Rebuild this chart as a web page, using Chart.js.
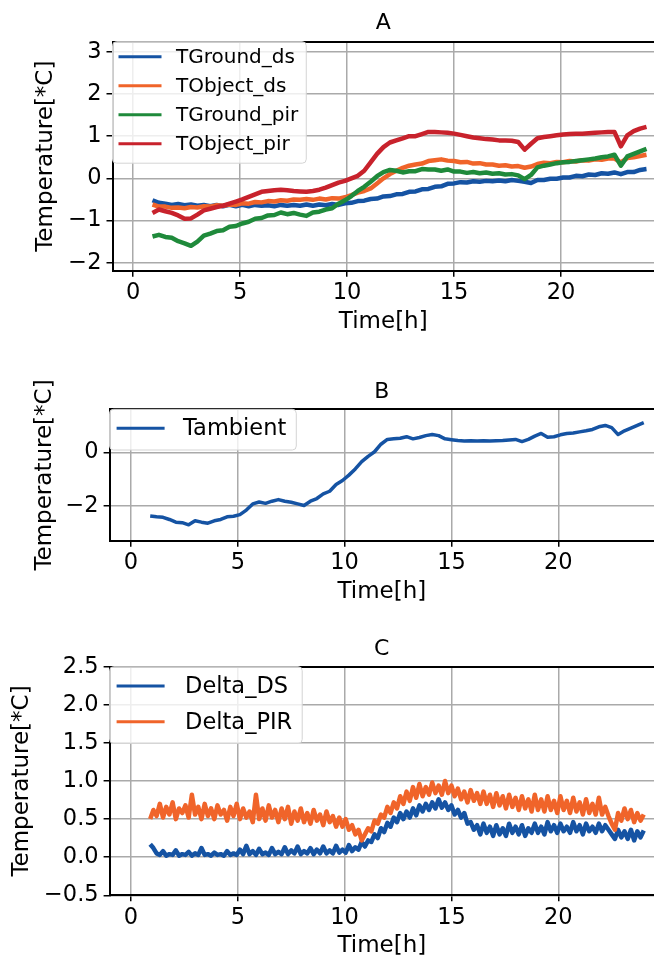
<!DOCTYPE html>
<html>
<head>
<meta charset="utf-8">
<script src="https://cdn.jsdelivr.net/npm/chart.js@4.4.0/dist/chart.umd.min.js"></script>
<style>
  html, body { margin: 0; padding: 0; background: #fff; }
  #wrap { position: relative; width: 654px; height: 960px; overflow: hidden; }
  canvas { position: absolute; left: 0; }
</style>
</head>
<body>
<div id="wrap">
  <canvas id="chartA" width="654" height="340" style="top:0"></canvas>
  <canvas id="chartB" width="654" height="270" style="top:340px"></canvas>
  <canvas id="chartC" width="654" height="350" style="top:610px"></canvas>
</div>
<script>
// Zeitachse in Stunden (Panel A und B)
const times = [
  0.9, 1.2, 1.5, 1.8, 2.1, 2.4, 2.7, 3.0, 3.3, 3.6,
  3.9, 4.2, 4.5, 4.8, 5.1, 5.4, 5.7, 6.0, 6.3, 6.6,
  6.9, 7.2, 7.5, 7.8, 8.1, 8.4, 8.7, 9.0, 9.3, 9.6,
  9.9, 10.2, 10.5, 10.8, 11.1, 11.4, 11.7, 12.0, 12.3, 12.6,
  12.9, 13.2, 13.5, 13.8, 14.1, 14.4, 14.7, 15.0, 15.3, 15.6,
  15.9, 16.2, 16.5, 16.8, 17.1, 17.4, 17.7, 18.0, 18.3, 18.6,
  18.9, 19.2, 19.5, 19.8, 20.1, 20.4, 20.7, 21.0, 21.3, 21.6,
  21.9, 22.2, 22.5, 22.8, 23.1, 23.4, 23.7, 24.0
];

// Panel A
const tGroundDs = [
  -0.52, -0.58, -0.60, -0.63, -0.61, -0.64, -0.62, -0.65, -0.63, -0.66,
  -0.63, -0.66, -0.63, -0.66, -0.63, -0.66, -0.63, -0.65, -0.64, -0.66,
  -0.63, -0.65, -0.63, -0.65, -0.62, -0.65, -0.62, -0.64, -0.61, -0.63,
  -0.59, -0.58, -0.54, -0.53, -0.49, -0.48, -0.43, -0.42, -0.38, -0.37,
  -0.32, -0.31, -0.26, -0.25, -0.20, -0.19, -0.13, -0.12, -0.09, -0.10,
  -0.07, -0.08, -0.06, -0.07, -0.05, -0.07, -0.04, -0.06, -0.08, -0.11,
  -0.04, -0.04, -0.01, -0.01, 0.02, 0.02, 0.06, 0.05, 0.09, 0.08,
  0.12, 0.11, 0.14, 0.10, 0.15, 0.15, 0.20, 0.22
];
const tObjectDs = [
  -0.62, -0.67, -0.67, -0.70, -0.69, -0.71, -0.68, -0.69, -0.66, -0.67,
  -0.64, -0.65, -0.62, -0.63, -0.59, -0.60, -0.56, -0.57, -0.54, -0.55,
  -0.52, -0.53, -0.50, -0.51, -0.49, -0.51, -0.48, -0.50, -0.47, -0.48,
  -0.45, -0.40, -0.34, -0.30, -0.24, -0.12, 0.00, 0.10, 0.18, 0.25,
  0.30, 0.33, 0.35, 0.41, 0.43, 0.45, 0.42, 0.41, 0.38, 0.39,
  0.35, 0.36, 0.33, 0.33, 0.30, 0.31, 0.28, 0.29, 0.25, 0.28,
  0.34, 0.37, 0.36, 0.39, 0.38, 0.41, 0.40, 0.43, 0.42, 0.45,
  0.44, 0.47, 0.47, 0.38, 0.48, 0.50, 0.53, 0.56
];
const tGroundPir = [
  -1.38, -1.34, -1.39, -1.41, -1.49, -1.54, -1.60, -1.50, -1.36, -1.31,
  -1.25, -1.23, -1.15, -1.13, -1.07, -1.03, -0.96, -0.94, -0.88, -0.87,
  -0.81, -0.85, -0.82, -0.86, -0.89, -0.81, -0.79, -0.74, -0.71, -0.60,
  -0.52, -0.42, -0.30, -0.20, -0.08, 0.05, 0.15, 0.20, 0.18, 0.14,
  0.17, 0.17, 0.22, 0.21, 0.21, 0.18, 0.21, 0.16, 0.16, 0.13,
  0.15, 0.12, 0.14, 0.11, 0.12, 0.09, 0.10, 0.07, -0.02, 0.08,
  0.26, 0.30, 0.33, 0.36, 0.38, 0.39, 0.41, 0.43, 0.45, 0.47,
  0.50, 0.52, 0.56, 0.30, 0.52, 0.58, 0.64, 0.70
];
const tObjectPir = [
  -0.82, -0.74, -0.78, -0.82, -0.88, -0.96, -0.95, -0.86, -0.76, -0.72,
  -0.68, -0.65, -0.60, -0.55, -0.50, -0.44, -0.38, -0.32, -0.30, -0.28,
  -0.27, -0.28, -0.30, -0.31, -0.32, -0.30, -0.27, -0.22, -0.16, -0.10,
  -0.06, 0.00, 0.06, 0.18, 0.38, 0.58, 0.74, 0.85, 0.90, 0.95,
  1.00, 1.00, 1.05, 1.10, 1.10, 1.09, 1.08, 1.06, 1.03, 1.00,
  0.97, 0.95, 0.93, 0.92, 0.90, 0.90, 0.89, 0.86, 0.68, 0.82,
  0.95, 0.98, 1.00, 1.02, 1.04, 1.05, 1.06, 1.06, 1.07, 1.08,
  1.09, 1.10, 1.10, 0.76, 1.02, 1.12, 1.18, 1.22
];

// Panel B
const tAmbient = [
  -2.37, -2.40, -2.42, -2.50, -2.60, -2.62, -2.70, -2.55, -2.60, -2.64,
  -2.55, -2.50, -2.40, -2.38, -2.32, -2.15, -1.92, -1.85, -1.90, -1.82,
  -1.76, -1.82, -1.86, -1.92, -1.98, -1.82, -1.72, -1.55, -1.45, -1.20,
  -1.05, -0.85, -0.62, -0.35, -0.15, 0.02, 0.30, 0.48, 0.50, 0.52,
  0.58, 0.50, 0.55, 0.62, 0.66, 0.62, 0.50, 0.47, 0.44, 0.42,
  0.43, 0.42, 0.43, 0.42, 0.43, 0.44, 0.46, 0.48, 0.40, 0.48,
  0.60, 0.70, 0.56, 0.58, 0.65, 0.70, 0.72, 0.76, 0.80, 0.85,
  0.95, 1.00, 0.92, 0.66, 0.80, 0.90, 1.00, 1.10
];

// Panel C (feinere Zeitachse wegen des Rauschens)
const timesC = [
  0.9, 1.05, 1.2, 1.35, 1.5, 1.65, 1.8, 1.95, 2.1, 2.25,
  2.4, 2.55, 2.7, 2.85, 3.0, 3.15, 3.3, 3.45, 3.6, 3.75,
  3.9, 4.05, 4.2, 4.35, 4.5, 4.65, 4.8, 4.95, 5.1, 5.25,
  5.4, 5.55, 5.7, 5.85, 6.0, 6.15, 6.3, 6.45, 6.6, 6.75,
  6.9, 7.05, 7.2, 7.35, 7.5, 7.65, 7.8, 7.95, 8.1, 8.25,
  8.4, 8.55, 8.7, 8.85, 9.0, 9.15, 9.3, 9.45, 9.6, 9.75,
  9.9, 10.05, 10.2, 10.35, 10.5, 10.65, 10.8, 10.95, 11.1, 11.25,
  11.4, 11.55, 11.7, 11.85, 12.0, 12.15, 12.3, 12.45, 12.6, 12.75,
  12.9, 13.05, 13.2, 13.35, 13.5, 13.65, 13.8, 13.95, 14.1, 14.25,
  14.4, 14.55, 14.7, 14.85, 15.0, 15.15, 15.3, 15.45, 15.6, 15.75,
  15.9, 16.05, 16.2, 16.35, 16.5, 16.65, 16.8, 16.95, 17.1, 17.25,
  17.4, 17.55, 17.7, 17.85, 18.0, 18.15, 18.3, 18.45, 18.6, 18.75,
  18.9, 19.05, 19.2, 19.35, 19.5, 19.65, 19.8, 19.95, 20.1, 20.25,
  20.4, 20.55, 20.7, 20.85, 21.0, 21.15, 21.3, 21.45, 21.6, 21.75,
  21.9, 22.05, 22.2, 22.35, 22.5, 22.65, 22.8, 22.95, 23.1, 23.25,
  23.4, 23.55, 23.7, 23.85, 24.0
];
const deltaDs = [
  0.17, 0.12, 0.05, 0.03, 0.08, 0.02, 0.04, 0.03, 0.09, 0.02,
  0.04, 0.03, 0.07, 0.02, 0.05, 0.03, 0.12, 0.03, 0.04, 0.02,
  0.06, 0.03, 0.04, 0.02, 0.08, 0.03, 0.05, 0.03, 0.10, 0.04,
  0.15, 0.04, 0.08, 0.03, 0.11, 0.04, 0.06, 0.03, 0.12, 0.04,
  0.07, 0.04, 0.13, 0.04, 0.09, 0.05, 0.14, 0.04, 0.08, 0.05,
  0.12, 0.04, 0.10, 0.05, 0.14, 0.05, 0.09, 0.05, 0.15, 0.06,
  0.10, 0.06, 0.16, 0.08, 0.13, 0.10, 0.20, 0.14, 0.22, 0.20,
  0.30, 0.25, 0.38, 0.33, 0.45, 0.40, 0.52, 0.46, 0.58, 0.50,
  0.60, 0.52, 0.64, 0.55, 0.68, 0.60, 0.70, 0.62, 0.72, 0.64,
  0.76, 0.65, 0.72, 0.62, 0.68, 0.56, 0.62, 0.52, 0.58, 0.44,
  0.46, 0.36, 0.42, 0.30, 0.44, 0.32, 0.40, 0.28, 0.42, 0.30,
  0.38, 0.28, 0.44, 0.32, 0.40, 0.30, 0.42, 0.28, 0.38, 0.32,
  0.44, 0.32, 0.40, 0.30, 0.46, 0.34, 0.42, 0.32, 0.44, 0.34,
  0.40, 0.32, 0.46, 0.34, 0.42, 0.30, 0.44, 0.34, 0.40, 0.32,
  0.44, 0.34, 0.42, 0.36, 0.30, 0.24, 0.36, 0.26, 0.34, 0.24,
  0.36, 0.22, 0.34, 0.26, 0.35
];
const deltaPir = [
  0.50, 0.62, 0.54, 0.70, 0.52, 0.66, 0.56, 0.72, 0.50, 0.64,
  0.58, 0.68, 0.52, 0.82, 0.56, 0.66, 0.50, 0.70, 0.54, 0.64,
  0.50, 0.68, 0.56, 0.62, 0.48, 0.66, 0.54, 0.70, 0.50, 0.64,
  0.52, 0.60, 0.46, 0.82, 0.50, 0.64, 0.48, 0.68, 0.52, 0.62,
  0.46, 0.64, 0.50, 0.66, 0.44, 0.60, 0.48, 0.64, 0.46, 0.58,
  0.44, 0.62, 0.48, 0.56, 0.42, 0.60, 0.46, 0.54, 0.40, 0.52,
  0.40, 0.50, 0.36, 0.42, 0.30, 0.36, 0.22, 0.30, 0.38, 0.34,
  0.48, 0.44, 0.56, 0.52, 0.66, 0.58, 0.72, 0.64, 0.80, 0.70,
  0.86, 0.74, 0.92, 0.78, 0.96, 0.80, 0.92, 0.82, 0.98, 0.84,
  0.94, 0.82, 1.00, 0.84, 0.94, 0.80, 0.90, 0.76, 0.86, 0.72,
  0.88, 0.74, 0.84, 0.70, 0.86, 0.70, 0.82, 0.66, 0.84, 0.68,
  0.80, 0.64, 0.82, 0.66, 0.78, 0.62, 0.80, 0.64, 0.76, 0.60,
  0.82, 0.62, 0.76, 0.60, 0.80, 0.62, 0.74, 0.58, 0.80, 0.62,
  0.74, 0.58, 0.78, 0.60, 0.72, 0.56, 0.76, 0.58, 0.70, 0.56,
  0.78, 0.56, 0.66, 0.54, 0.44, 0.36, 0.58, 0.48, 0.64, 0.50,
  0.62, 0.46, 0.58, 0.48, 0.56
];

// Achsenbeschriftungen
const xTicks = [0, 5, 10, 15, 20];
const yTicksA = [-2, -1, 0, 1, 2, 3];
const yTicksB = [-2, 0];
const yTicksC = [-0.5, 0, 0.5, 1, 1.5, 2, 2.5];

const BLUE = '#1553a3';
const ORANGE = '#f0642a';
const GREEN = '#1f8a3b';
const RED = '#c8222c';
const FAMILY = 'DejaVu Sans';

// Legende mit Rahmen oben links im Plotbereich (wie matplotlib)
const boxLegend = {
  id: 'boxLegend',
  afterDatasetsDraw(chart, args, opts) {
    const ctx = chart.ctx;
    const area = chart.chartArea;
    const sets = chart.data.datasets;
    ctx.save();
    ctx.font = opts.fontSize + 'px "' + FAMILY + '"';
    let maxW = 0;
    sets.forEach(ds => { maxW = Math.max(maxW, ctx.measureText(ds.label).width); });
    const w = opts.textX + maxW + opts.padRight;
    const h = opts.padTop + sets.length * opts.rowH + opts.padBottom;
    const x = area.left, y = area.top;
    ctx.beginPath();
    ctx.roundRect(x, y, w, h, 4);
    ctx.fillStyle = 'rgba(255,255,255,0.8)';
    ctx.fill();
    ctx.strokeStyle = '#d4d4d4';
    ctx.lineWidth = 1;
    ctx.stroke();
    sets.forEach((ds, i) => {
      const cy = y + opts.padTop + opts.rowH * (i + 0.5);
      ctx.beginPath();
      ctx.moveTo(x + opts.lineX0, cy);
      ctx.lineTo(x + opts.lineX1, cy);
      ctx.strokeStyle = ds.borderColor;
      ctx.lineWidth = 3;
      ctx.stroke();
      ctx.fillStyle = '#000';
      ctx.textBaseline = 'middle';
      ctx.textAlign = 'left';
      ctx.fillText(ds.label, x + opts.textX, cy + 1);
    });
    ctx.restore();
  }
};

function fmt(v, digits) {
  const s = Math.abs(v).toFixed(digits);
  return v < 0 ? '\u2212' + s : s;
}

function makePanel(id, p) {
  const tickFont = { family: FAMILY, size: 22.5 };
  const titleFont = { family: FAMILY, size: 23 };
  const grid = { color: '#aaaaaa', lineWidth: 1.5, tickColor: '#000', tickLength: 6, tickWidth: 1.5 };
  const border = { color: '#000', width: 2 };
  const xs = p.times || times;
  const datasets = p.series.map((s, i) => ({
    label: s.label,
    data: xs.map((t, k) => ({ x: t, y: s.values[k] })),
    borderColor: s.color,
    borderWidth: p.lineWidth,
    borderJoinStyle: 'round',
    pointRadius: 0,
    tension: 0,
    order: p.series.length - i
  }));
  return new Chart(document.getElementById(id), {
    type: 'line',
    data: { datasets: datasets },
    options: {
      responsive: false,
      animation: false,
      layout: { padding: 0 },
      plugins: {
        legend: { display: false },
        tooltip: { enabled: false },
        boxLegend: p.legend
      },
      scales: {
        x: {
          type: 'linear', position: 'bottom',
          min: p.xMin, max: p.xMax,
          afterBuildTicks: s => { s.ticks = xTicks.map(v => ({ value: v })); },
          afterFit: s => { s.height = p.bottomH; },
          grid: grid, border: border,
          ticks: { font: tickFont, color: '#000', padding: 3, maxRotation: 0, callback: v => fmt(v, 0) },
          title: { display: true, text: 'Time[h]', font: titleFont, color: '#000', padding: { top: 0, bottom: p.xTitlePad } }
        },
        xTop: {
          type: 'linear', axis: 'x', position: 'top',
          grid: { display: false }, border: border,
          ticks: { display: false },
          afterFit: s => { s.height = p.topH; },
          title: { display: true, text: p.title, font: { family: FAMILY, size: 22 }, color: '#000', padding: { top: p.titlePad, bottom: 0 } }
        },
        y: {
          type: 'linear', position: 'left',
          min: p.yMin, max: p.yMax,
          afterBuildTicks: s => { s.ticks = p.yTicks.map(v => ({ value: v })); },
          afterFit: s => { s.width = p.leftW; },
          grid: grid, border: border,
          ticks: { font: tickFont, color: '#000', padding: 5, callback: v => fmt(v, p.yDigits) },
          title: { display: true, text: 'Temperature[*C]', font: titleFont, color: '#000', padding: { top: p.yTitlePad, bottom: 0 } }
        }
      }
    },
    plugins: [boxLegend]
  });
}

makePanel('chartA', {
  title: 'A', titlePad: 10, topH: 41.7, bottomH: 69.3, leftW: 112.5,
  xMin: -0.97, xMax: 24.35, yMin: -2.19, yMax: 3.24, yTicks: yTicksA, yDigits: 0,
  xTitlePad: 4.5, yTitlePad: 32, lineWidth: 4.5,
  legend: { fontSize: 20, rowH: 29, padTop: 0.5, padBottom: 5, lineX0: 6, lineX1: 49, textX: 63.5, padRight: 8 },
  series: [
    { label: 'TGround_ds', values: tGroundDs, color: BLUE },
    { label: 'TObject_ds', values: tObjectDs, color: ORANGE },
    { label: 'TGround_pir', values: tGroundPir, color: GREEN },
    { label: 'TObject_pir', values: tObjectPir, color: RED }
  ]
});

makePanel('chartB', {
  title: 'B', titlePad: 39.3, topH: 69.3, bottomH: 69.3, leftW: 109.6,
  xMin: -1.0, xMax: 24.48, yMin: -3.29, yMax: 1.6, yTicks: yTicksB, yDigits: 0,
  xTitlePad: 4.5, yTitlePad: 31, lineWidth: 3.5,
  legend: { fontSize: 22.5, rowH: 34, padTop: 2, padBottom: 4.7, lineX0: 7, lineX1: 55, textX: 73.5, padRight: 10 },
  series: [
    { label: 'Tambient', values: tAmbient, color: BLUE }
  ]
});

makePanel('chartC', {
  title: 'C', titlePad: 25.8, topH: 56.7, bottomH: 64.7, leftW: 109.6,
  xMin: -1.0, xMax: 24.48, yMin: -0.5, yMax: 2.5, yTicks: yTicksC, yDigits: 1,
  xTitlePad: 0, yTitlePad: 8, lineWidth: 4.5, times: timesC,
  legend: { fontSize: 22.5, rowH: 35.7, padTop: 1.5, padBottom: 3.7, lineX0: 7, lineX1: 55, textX: 75.5, padRight: 10 },
  series: [
    { label: 'Delta_DS', values: deltaDs, color: BLUE },
    { label: 'Delta_PIR', values: deltaPir, color: ORANGE }
  ]
});
</script>
</body>
</html>
